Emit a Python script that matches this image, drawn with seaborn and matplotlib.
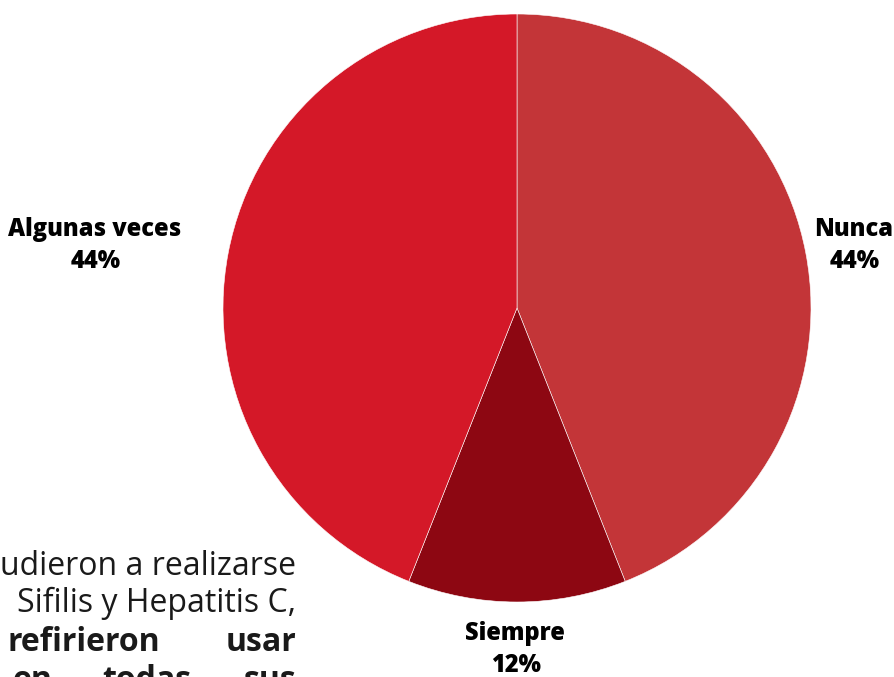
import matplotlib
matplotlib.use("Agg")
import matplotlib.pyplot as plt
import seaborn as sns

# Datos del grafico
categorias = ["Nunca", "Siempre", "Algunas veces"]
porcentajes = [44, 12, 44]
colores = ["#C33538", "#8D0712", "#D41828"]

# Texto del parrafo que asoma por la izquierda
parrafo_normal = ["udieron a realizarse", "Sifilis y Hepatitis C,"]
parrafo_negrita = [("refirieron", "usar"), ("en", "todas", "sus")]

sns.set_theme(style="white")
plt.rcParams["font.family"] = ["Open Sans", "DejaVu Sans"]

fig = plt.figure(figsize=(8.94, 6.77), dpi=100)
ax = fig.add_axes([0, 0, 1, 1])

# Pie (coordenadas en pixeles, eje y invertido)
ax.pie(porcentajes, colors=colores, startangle=-90, counterclock=True,
       center=(517, 308), radius=294, frame=True,
       wedgeprops=dict(edgecolor="white", linewidth=0.4))
ax.set_xlim(0, 894)
ax.set_ylim(677, 0)
ax.axis("off")

# Etiquetas (nombre y porcentaje en dos lineas)
pos_etiquetas = {"Nunca": (854, 236), "Siempre": (515, 640), "Algunas veces": (95, 236)}
for cat, pct in zip(categorias, porcentajes):
    x, y = pos_etiquetas[cat]
    ax.text(x, y, cat, ha="center", va="baseline", fontsize=17,
            fontweight="heavy", color="black")
    ax.text(x + 1, y + 32, f"{pct}%", ha="center", va="baseline", fontsize=17,
            fontweight="heavy", color="black")

# Parrafo
estilo = dict(fontsize=23, color="#1a1a1a", va="baseline")
ax.text(296, 575, parrafo_normal[0], ha="right", **estilo)
ax.text(296, 612, parrafo_normal[1], ha="right", **estilo)
ax.text(7, 651, parrafo_negrita[0][0], ha="left", fontweight="bold", **estilo)
ax.text(296, 651, parrafo_negrita[0][1], ha="right", fontweight="bold", **estilo)
ax.text(13, 689, parrafo_negrita[1][0], ha="left", fontweight="bold", **estilo)
ax.text(147, 689, parrafo_negrita[1][1], ha="center", fontweight="bold", **estilo)
ax.text(296, 689, parrafo_negrita[1][2], ha="right", fontweight="bold", **estilo)

fig.savefig("out.png", dpi=100)
